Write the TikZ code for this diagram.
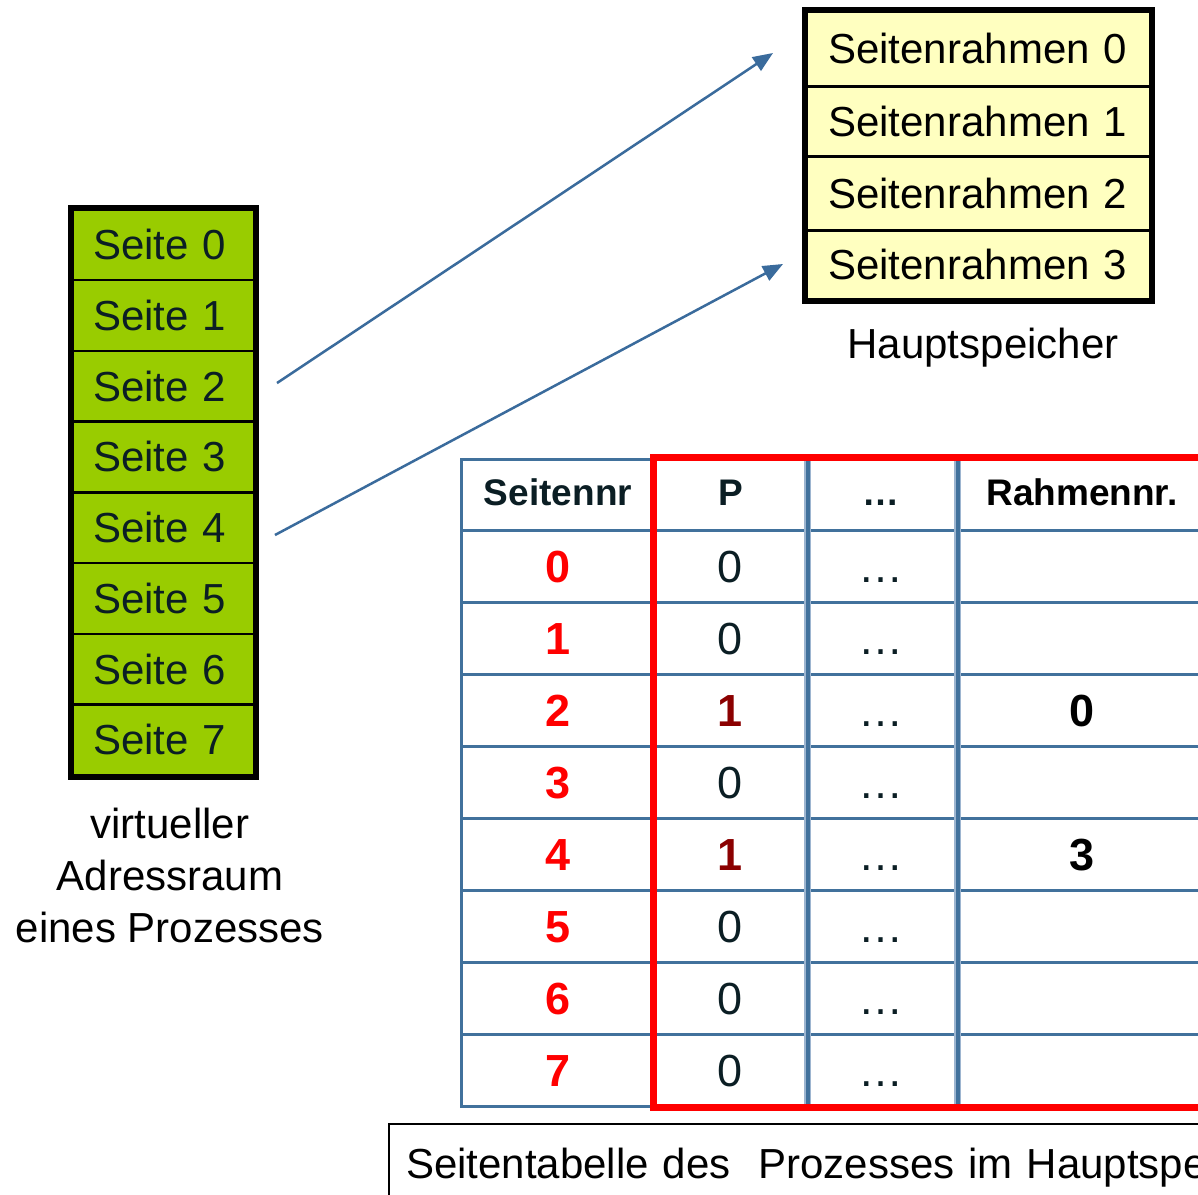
\documentclass[tikz,border=0pt]{standalone}
\usepackage{fontspec}
\setmainfont{Liberation Sans}
\usetikzlibrary{arrows.meta}
\definecolor{seitegreen}{HTML}{99CC00}
\definecolor{rahmenyellow}{HTML}{FFFFC0}
\definecolor{darktext}{HTML}{0B1E24}
\definecolor{tblue}{HTML}{41719C}
\definecolor{tbluelight}{HTML}{9DB5D0}
\definecolor{arrowblue}{HTML}{3A6B9C}
\definecolor{pdarkred}{HTML}{8B0000}
\begin{document}
\begin{tikzpicture}[x=1pt,y=-1pt,
  bigfont/.style={font=\fontsize{42}{50}\selectfont},
  seitebox/.style={bigfont, draw=black, line width=2.5pt, fill=seitegreen,
    minimum height=70.75pt, anchor=north west, inner xsep=21pt, inner ysep=0pt,
    text width=140pt, align=left, text=darktext, text height=30pt, text depth=0pt},
  rahmenbox/.style={bigfont, draw=black, line width=2.5pt, fill=rahmenyellow,
    anchor=north west, inner xsep=22pt, inner ysep=0pt,
    text width=300pt, align=left, text=black, text height=30pt, text depth=0pt},
  plain/.style={bigfont, inner sep=0pt, text=black},
  conn/.style={draw=arrowblue, line width=2.5pt, -{Triangle[length=20pt,width=16pt]}},
  cell/.style={draw=tblue, line width=3pt, inner sep=0pt, minimum height=72pt,
    font=\fontsize{45}{54}\selectfont, text height=32pt, text depth=0pt},
  hcell/.style={draw=tblue, line width=3pt, inner sep=0pt, minimum height=71pt,
    font=\fontsize{37}{44}\selectfont\bfseries, text=darktext, text height=22pt, text depth=0pt},
  wA/.style={minimum width=194pt},
  wB/.style={minimum width=151pt},
  wC/.style={minimum width=150pt},
  wD/.style={minimum width=252pt},
  pnorm/.style={text=darktext},
  pbold/.style={text=pdarkred, font=\fontsize{45}{54}\selectfont\bfseries},
  sepline/.style={line width=4pt, draw=tblue},
  sepglow/.style={line width=6.5pt, draw=tbluelight}
]
\useasboundingbox (0,0) rectangle (1198,1194);
\clip (0,0) rectangle (1198,1194);
\fill[white] (0,0) rectangle (1198,1194);

% virtual address space
\foreach \i in {0,...,7}{
  \node[seitebox] (s\i) at (71,{208+70.75*\i}) {Seite \i};
}
\draw[line width=6pt] (s0.north west) rectangle (s7.south east);
\node[plain, anchor=base] (vlab) at (170,838) {virtueller};
\node[plain, anchor=base] (vlab2) at (170,890) {Adressraum};
\node[plain, anchor=base] (vlab3) at (170,942) {eines Prozesses};

% main memory
\node[rahmenbox, minimum height=75pt] (r0) at (805,10) {Seitenrahmen 0};
\node[rahmenbox, minimum height=70pt] (r1) at (805,85) {Seitenrahmen 1};
\node[rahmenbox, minimum height=74pt] (r2) at (805,155) {Seitenrahmen 2};
\node[rahmenbox, minimum height=69pt] (r3) at (805,229) {Seitenrahmen 3};
\draw[line width=6pt] (r0.north west) rectangle (r3.south east);
\node[plain, anchor=base] (hs) at (983,358) {Hauptspeicher};

% arrows
\coordinate (a1s) at (277,383);
\coordinate (a1e) at (773,53);
\coordinate (a2s) at (275,535);
\coordinate (a2e) at (783,264);
\draw[conn] (a1s) -- (a1e);
\draw[conn] (a2s) -- (a2e);

% page table header
\node[hcell, wA] (h0) at (558,494.5) {Seitennr};
\node[hcell, wB] (h1) at (730.5,494.5) {P};
\node[hcell, wC] (h2) at (881,494.5) {…};
\node[hcell, wD, text=black] (h3) at (1082,494.5) {Rahmennr.};

% page table rows
\foreach \r/\pst/\p/\rn in {0/pnorm/0/{},1/pnorm/0/{},2/pbold/1/0,3/pnorm/0/{},4/pbold/1/3,5/pnorm/0/{},6/pnorm/0/{},7/pnorm/0/{}}{
  \node[cell, wA, text=red, font=\fontsize{45}{54}\selectfont\bfseries] (t\r a) at (558,{566+72*\r}) {\r};
  \node[cell, wB, \pst] (t\r b) at (730.5,{566+72*\r}) {\p};
  \node[cell, wC, text=darktext] (t\r c) at (881,{566+72*\r}) {…};
  \node[cell, wD, text=black, font=\fontsize{45}{54}\selectfont\bfseries] (t\r d) at (1082,{566+72*\r}) {\rn};
}

% thicker column separators
\draw[sepglow] (h1.north east) -- (t7b.south east);
\draw[sepline] (h1.north east) -- (t7b.south east);
\draw[sepglow] (h2.north east) -- (t7c.south east);
\draw[sepline] (h2.north east) -- (t7c.south east);

% red frame
\draw[red, line width=7pt] ([xshift=80pt]h3.north east) -- (h1.north west) -- (t7b.south west) -- ([xshift=80pt]t7d.south east);

% caption box
\node[bigfont, draw=black, line width=2pt, anchor=north west, inner xsep=17pt,
  inner ysep=24pt, text height=30pt, text depth=10pt, text width=900pt, align=left]
  (cap) at (388,1123) {Seitentabelle des\ \ Prozesses im Hauptspeicher};
\end{tikzpicture}
\end{document}
